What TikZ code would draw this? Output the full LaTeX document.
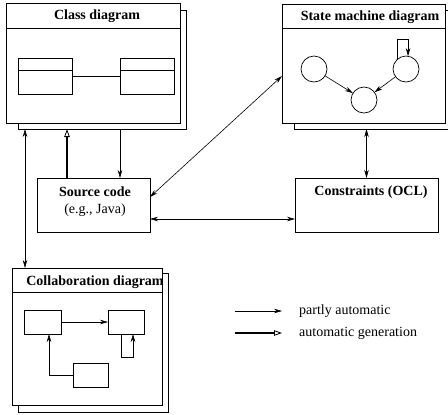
\documentclass[tikz,border=0pt]{standalone}
\usepackage{fontspec}
\setmainfont{Liberation Serif}
\usetikzlibrary{arrows.meta}
\begin{document}
\begin{tikzpicture}[x=1bp,y=-1bp,
  frame/.style={draw, fill=white, line width=0.9bp, inner sep=0pt, outer sep=0pt, anchor=north west},
  box/.style={draw, line width=0.9bp, inner sep=0pt, outer sep=0pt, anchor=north west},
  circ/.style={draw, circle, line width=0.7bp, minimum size=26bp, inner sep=0pt, outer sep=0pt},
  ttl/.style={font=\fontsize{14bp}{16bp}\selectfont\bfseries, inner sep=0pt},
  txt/.style={font=\fontsize{14bp}{16bp}\selectfont, inner sep=0pt},
  pa/.style={line width=0.6bp, -{Stealth[length=8bp,width=4.5bp,inset=2.5bp]}},
  pab/.style={line width=0.6bp, {Stealth[length=8bp,width=4.5bp,inset=2.5bp]}-{Stealth[length=8bp,width=4.5bp,inset=2.5bp]}},
  ag/.style={line width=2bp, -{Triangle[open,length=8bp,width=5.5bp,line width=0.8bp]}}]
\clip (0,0) rectangle (448,414);

% Class diagram
\node[frame, minimum width=168bp, minimum height=119bp] (clsB) at (18,10) {};
\node[frame, minimum width=174bp, minimum height=120bp] (cls) at (6,3) {};
\draw[line width=0.9bp] ([yshift=-25bp]cls.north west) -- ([yshift=-25bp]cls.north east);
\node[ttl] (clsT) at (97,16) {Class diagram};
\node[box, minimum width=54bp, minimum height=36bp] (k1) at (18,58) {};
\node[box, minimum width=54bp, minimum height=36bp] (k2) at (120,58) {};
\draw[line width=0.9bp] ([yshift=-12bp]k1.north west) -- ([yshift=-12bp]k1.north east);
\draw[line width=0.9bp] ([yshift=-12bp]k2.north west) -- ([yshift=-12bp]k2.north east);
\draw[line width=0.9bp] (k1.east) -- (k2.west);

% State machine diagram
\node[frame, minimum width=157bp, minimum height=119bp] (stmB) at (294,10) {};
\node[frame, minimum width=163bp, minimum height=119bp] (stm) at (282,4) {};
\draw[line width=0.9bp] ([yshift=-24bp]stm.north west) -- ([yshift=-24bp]stm.north east);
\node[ttl] (stmT) at (370,17) {State machine diagram};
\node[circ] (s1) at (314,69) {};
\node[circ] (s2) at (364,100) {};
\node[circ] (s3) at (406,69) {};
\draw[pa] (s1) -- (s2);
\draw[pa] (s3) -- (s2);
\draw[pa] (s3.134) |- ([yshift=17bp]s3.81) -- (s3.81);

% Collaboration diagram
\node[frame, minimum width=150bp, minimum height=139bp] (colB) at (18,273) {};
\node[frame, minimum width=150bp, minimum height=137bp] (col) at (12,268) {};
\draw[line width=0.9bp] ([yshift=-24bp]col.north west) -- ([yshift=-24bp]col.north east);
\node[ttl] (colT) at (95,282) {Collaboration diagram};
\node[box, minimum width=37bp, minimum height=24bp] (o1) at (24,310) {};
\node[box, minimum width=36bp, minimum height=24bp] (o2) at (108,310) {};
\node[box, minimum width=35bp, minimum height=24bp] (o3) at (73,363) {};
\draw[pa] (o1.east) -- (o2.west);
\draw[pa] ([xshift=13bp]o2.south west) -- ++(0,23) -| ([xshift=25bp]o2.south west);
\draw[pa] (o3.west) -| ([xshift=25bp]o1.south west);

% Source code and constraints
\node[box, minimum width=113bp, minimum height=54bp] (src) at (37,178) {};
\node[ttl] (srcT) at (95,192) {Source code};
\node[txt] (srcS) at (95,210) {(e.g., Java)};
\node[box, minimum width=143bp, minimum height=54bp] (ocl) at (295,178) {};
\node[ttl] (oclT) at (371,192) {Constraints (OCL)};

% Connectors
\coordinate (srcR) at ([xshift=26.5bp]src.north);
\coordinate (srcL) at ([xshift=-26.5bp]src.north);
\coordinate (clsX) at ([xshift=7bp]clsB.south west);
\draw[pa] (srcR |- clsB.south) -- (srcR);
\draw[ag] (srcL) -- (srcL |- clsB.south);
\draw[pab] (clsX) -- (clsX |- col.north);
\draw[pab] ([yshift=-12.5bp]stm.west) -- ([yshift=8bp]src.east);
\draw[pab] (stmB.south -| ocl.north) -- (ocl.north);
\draw[pab] ([yshift=-14bp]src.east) -- ([yshift=-14bp]ocl.west);

% Legend
\coordinate (l1a) at (235,311);
\coordinate (l1b) at (282,311);
\coordinate (l2a) at (235,333);
\coordinate (l2b) at (282,333);
\draw[pa] (l1a) -- (l1b);
\draw[ag] (l2a) -- (l2b);
\node[txt, anchor=west] (l1t) at (299,311) {partly automatic};
\node[txt, anchor=west] (l2t) at (299,333) {automatic generation};
\end{tikzpicture}
\end{document}
